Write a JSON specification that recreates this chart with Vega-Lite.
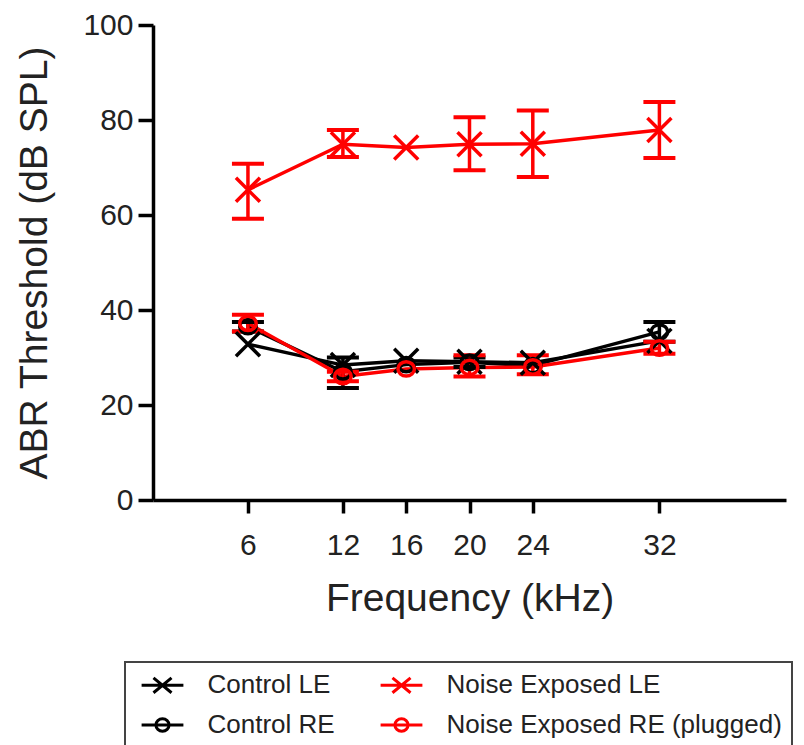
{
  "$schema": "https://vega.github.io/schema/vega-lite/v6.json",
  "width": 633,
  "height": 475,
  "autosize": {"type": "none"},
  "padding": {"left": 153, "top": 25, "right": 18, "bottom": 245},
  "background": "white",
  "config": {
    "view": {"stroke": null},
    "font": "Liberation Sans",
    "axis": {
      "domainColor": "black", "domainWidth": 3.5, "tickColor": "black", "tickWidth": 3.5,
      "labelFont": "Liberation Sans", "labelFontSize": 30, "labelColor": "#222",
      "titleFont": "Liberation Sans", "titleFontSize": 39, "titleFontWeight": "normal", "titleColor": "#222",
      "grid": false
    }
  },
  "data": {"values": [
    {"series": "Control LE", "freq": 6, "y": 32.8, "lo": null, "hi": null},
    {"series": "Control LE", "freq": 12, "y": 28.4, "lo": null, "hi": null},
    {"series": "Control LE", "freq": 16, "y": 29.3, "lo": null, "hi": null},
    {"series": "Control LE", "freq": 20, "y": 29.1, "lo": null, "hi": null},
    {"series": "Control LE", "freq": 24, "y": 28.9, "lo": null, "hi": null},
    {"series": "Control LE", "freq": 32, "y": 33.5, "lo": null, "hi": null},
    {"series": "Control RE", "freq": 6, "y": 36.5, "lo": 35.5, "hi": 37.5},
    {"series": "Control RE", "freq": 12, "y": 27, "lo": 23.6, "hi": 30},
    {"series": "Control RE", "freq": 16, "y": 28.5, "lo": null, "hi": null},
    {"series": "Control RE", "freq": 20, "y": 29, "lo": 28, "hi": 30},
    {"series": "Control RE", "freq": 24, "y": 28.3, "lo": null, "hi": null},
    {"series": "Control RE", "freq": 32, "y": 35.4, "lo": 33.3, "hi": 37.5},
    {"series": "Noise Exposed LE", "freq": 6, "y": 65.3, "lo": 59.2, "hi": 70.8},
    {"series": "Noise Exposed LE", "freq": 12, "y": 74.9, "lo": 72.2, "hi": 77.9},
    {"series": "Noise Exposed LE", "freq": 16, "y": 74.2, "lo": null, "hi": null},
    {"series": "Noise Exposed LE", "freq": 20, "y": 74.9, "lo": 69.4, "hi": 80.6},
    {"series": "Noise Exposed LE", "freq": 24, "y": 75, "lo": 68, "hi": 82},
    {"series": "Noise Exposed LE", "freq": 32, "y": 77.9, "lo": 72, "hi": 83.8},
    {"series": "Noise Exposed RE (plugged)", "freq": 6, "y": 37.2, "lo": 35.5, "hi": 39},
    {"series": "Noise Exposed RE (plugged)", "freq": 12, "y": 26, "lo": 25, "hi": 27},
    {"series": "Noise Exposed RE (plugged)", "freq": 16, "y": 27.6, "lo": null, "hi": null},
    {"series": "Noise Exposed RE (plugged)", "freq": 20, "y": 27.9, "lo": 26, "hi": 30.5},
    {"series": "Noise Exposed RE (plugged)", "freq": 24, "y": 28, "lo": 26.5, "hi": 30.5},
    {"series": "Noise Exposed RE (plugged)", "freq": 32, "y": 32, "lo": 30.8, "hi": 33.3}
  ]},
  "encoding": {
    "x": {"field": "freq", "type": "quantitative",
      "scale": {"domain": [0, 40], "nice": false, "zero": false},
      "axis": {"values": [6, 12, 16, 20, 24, 32], "title": "Frequency (kHz)", "tickSize": 13, "labelPadding": 17, "titlePadding": 19}},
    "color": {"field": "series", "type": "nominal",
      "scale": {"domain": ["Control LE", "Noise Exposed LE", "Control RE", "Noise Exposed RE (plugged)"], "range": ["#000000", "#ff0000", "#000000", "#ff0000"]},
      "legend": {
        "title": null, "orient": "none", "legendX": -28, "legendY": 637, "columns": 2, "direction": "horizontal",
        "labelFont": "Liberation Sans", "labelFontSize": 26, "labelColor": "#222", "labelLimit": 0,
        "labelOffset": 32, "symbolOffset": 14.5, "symbolSize": 484, "symbolStrokeWidth": 3, "symbolFillColor": "transparent",
        "rowPadding": 13, "columnPadding": 39,
        "padding": 10, "strokeColor": "#444",
        "encode": {
          "symbols": {"update": {
            "shape": {"signal": "indexof(['Control LE','Noise Exposed LE'], datum.value) >= 0 ? 'M-1.9,0H1.9M-0.82,-0.68L0.82,0.68M-0.82,0.68L0.82,-0.68' : 'M-1.9,0H1.9M-0.6,0A0.6,0.56 0 1,0 0.6,0A0.6,0.56 0 1,0 -0.6,0'"},
            "fill": {"value": "transparent"},
            "strokeWidth": {"value": 3}
          }},
          "legend": {"update": {"strokeWidth": {"value": 2}}}
        }
      }}
  },
  "layer": [
    {
      "mark": {"type": "line", "strokeWidth": 3.5},
      "encoding": {
        "y": {"field": "y", "type": "quantitative",
          "scale": {"domain": [0, 100], "nice": false},
          "axis": {"values": [0, 20, 40, 60, 80, 100], "title": "ABR Threshold (dB SPL)", "tickSize": 15, "labelPadding": 5, "titlePadding": 28}}
      }
    },
    {
      "transform": [{"filter": "isValid(datum.lo)"}],
      "mark": {"type": "rule", "strokeWidth": 3.5},
      "encoding": {"y": {"field": "lo", "type": "quantitative"}, "y2": {"field": "hi"}}
    },
    {
      "transform": [{"filter": "isValid(datum.lo)"}],
      "mark": {"type": "rule", "strokeWidth": 4, "xOffset": -16, "x2Offset": 16},
      "encoding": {"x2": {"field": "freq"}, "y": {"field": "lo", "type": "quantitative"}}
    },
    {
      "transform": [{"filter": "isValid(datum.lo)"}],
      "mark": {"type": "rule", "strokeWidth": 4, "xOffset": -16, "x2Offset": 16},
      "encoding": {"x2": {"field": "freq"}, "y": {"field": "hi", "type": "quantitative"}}
    },
    {
      "transform": [{"filter": "indexof(['Control LE','Noise Exposed LE'], datum.series) >= 0"}],
      "mark": {"type": "point", "filled": false, "strokeWidth": 3.5, "size": 576, "opacity": 1, "shape": "M-1,-1L1,1M-1,1L1,-1"},
      "encoding": {"y": {"field": "y", "type": "quantitative"}}
    },
    {
      "transform": [{"filter": "indexof(['Control RE','Noise Exposed RE (plugged)'], datum.series) >= 0"}],
      "mark": {"type": "point", "filled": false, "strokeWidth": 3.5, "size": 484, "opacity": 1, "shape": "M-0.75,0A0.75,0.65 0 1,0 0.75,0A0.75,0.65 0 1,0 -0.75,0"},
      "encoding": {"y": {"field": "y", "type": "quantitative"}}
    }
  ]
}
